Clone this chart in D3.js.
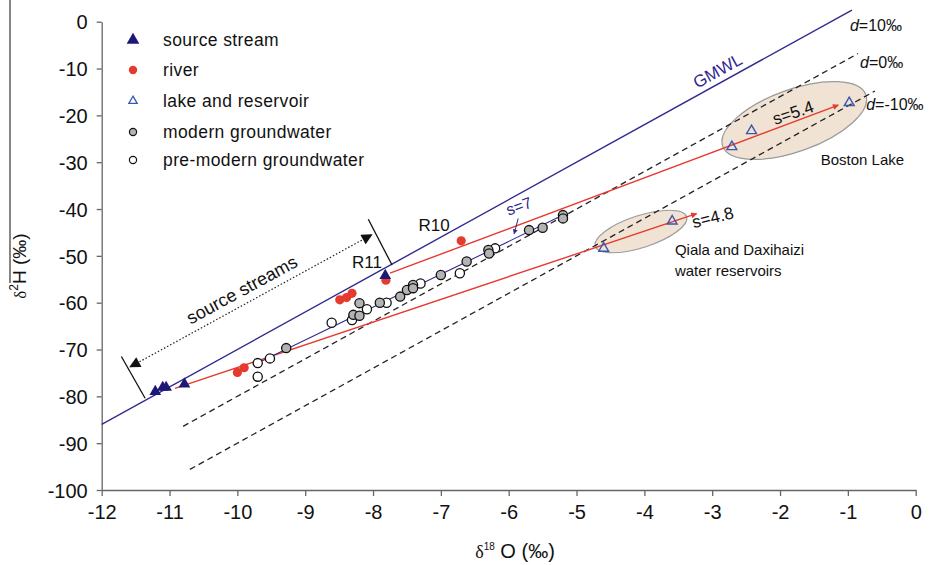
<!DOCTYPE html>
<html>
<head>
<meta charset="utf-8">
<script src="https://cdn.jsdelivr.net/npm/d3@7"></script>
<style>
  body { margin: 0; background: #fff; }
  svg { font-family: "Liberation Sans", Arial, sans-serif; }
</style>
</head>
<body>
<svg id="chart" width="936" height="565"></svg>
<script>
// ---- data (delta18O, delta2H) ----
var xTicks = [-12, -11, -10, -9, -8, -7, -6, -5, -4, -3, -2, -1, 0];
var yTicks = [0, -10, -20, -30, -40, -50, -60, -70, -80, -90, -100];

var sourceStream = [[-11.21, -79.0], [-11.10, -78.1], [-11.05, -78.1], [-10.78, -77.4], [-7.82, -54.2]];
var river = [[-10.0, -74.9], [-9.9, -73.9], [-8.49, -59.4], [-8.39, -58.9], [-8.31, -58.0], [-7.81, -55.2], [-6.70, -46.8]];
var lakeReservoir = [[-2.71, -26.7], [-2.42, -23.3], [-0.98, -17.3], [-4.60, -48.4], [-3.59, -42.6]];
var modernGW = [[-9.28, -69.7], [-8.29, -62.6], [-8.20, -62.8], [-8.20, -60.1], [-7.90, -60.0], [-7.60, -58.7],
  [-7.50, -57.3], [-7.41, -56.2], [-7.41, -56.9], [-7.00, -54.1], [-6.62, -51.2], [-6.30, -48.75], [-6.29, -49.5],
  [-5.70, -44.5], [-5.50, -44.0], [-5.20, -41.3], [-5.20, -42.0]];
var preModernGW = [[-9.70, -72.9], [-9.70, -75.8], [-9.52, -71.9], [-8.61, -64.3], [-8.31, -63.7], [-8.09, -61.4],
  [-7.80, -60.0], [-7.30, -55.9], [-6.72, -53.7], [-6.20, -48.4]];

// meteoric water lines: dH = 8*dO + d
var gmwlRange = [-12, -0.94];
var dExcess = [0, -10];
var dExcessRanges = [[-10.8, -0.85], [-10.7, -0.6]];

// fitted evaporation lines
var trendBoston = [[-7.75, -53.7], [-1.14, -17.8]];
var trendQiala = [[-10.92, -78.3], [-3.23, -41.0]];
var trendGW = [[-9.70, -72.9], [-5.20, -41.3]];

// source streams span marker
var spanArrow = [[-11.58, -73.7], [-8.02, -45.5]];
var spanBars = [[[-11.71, -71.5], [-11.36, -80.4]], [[-8.07, -42.2], [-7.72, -51.95]]];

// ellipse centres
var bostonCentre = [-1.79, -21.1];
var qialaCentre = [-4.05, -44.8];

var legendLabels = ["source stream", "river", "lake and reservoir", "modern groundwater", "pre-modern groundwater"];

// ---- chart ----
var svg = d3.select("#chart");
var x = d3.scaleLinear().domain([-12, 0]).range([101.7, 915.7]);
var y = d3.scaleLinear().domain([-100, 0]).range([490, 21.7]);

var navy = "#1d1878", red = "#e63a2e", lakeBlue = "#3a56b0", lineBlue = "#2f2a8e";

var defs = svg.append("defs");
defs.append("marker").attr("id", "redHead")
  .attr("viewBox", "0 0 10 10").attr("refX", 9).attr("refY", 5)
  .attr("markerWidth", 7).attr("markerHeight", 6).attr("markerUnits", "userSpaceOnUse")
  .attr("orient", "auto")
  .append("path").attr("d", "M0,0 L10,5 L0,10 z").attr("fill", red);
defs.append("marker").attr("id", "blackHead")
  .attr("viewBox", "0 0 10 10").attr("refX", 9).attr("refY", 5)
  .attr("markerWidth", 13).attr("markerHeight", 11).attr("markerUnits", "userSpaceOnUse")
  .attr("orient", "auto-start-reverse")
  .append("path").attr("d", "M0,0 L10,5 L0,10 z").attr("fill", "#111");
defs.append("marker").attr("id", "blueHead")
  .attr("viewBox", "0 0 10 10").attr("refX", 9).attr("refY", 5)
  .attr("markerWidth", 5).attr("markerHeight", 5).attr("markerUnits", "userSpaceOnUse")
  .attr("orient", "auto")
  .append("path").attr("d", "M0,0 L10,5 L0,10 z").attr("fill", lineBlue);

// axes
var plain = function (d) { return String(d); };
var xAxis = svg.append("g").attr("transform", "translate(0," + y(-100) + ")")
  .call(d3.axisBottom(x).tickValues(xTicks).tickSize(6).tickSizeOuter(0).tickPadding(9).tickFormat(plain));
var yAxis = svg.append("g").attr("transform", "translate(" + x(-12) + ",0)")
  .call(d3.axisLeft(y).tickValues(yTicks).tickSize(5).tickSizeOuter(0).tickPadding(9).tickFormat(plain));
[xAxis, yAxis].forEach(function (g) {
  g.selectAll("path, line").attr("stroke", "#666").attr("stroke-width", 1.3);
  g.selectAll("text").attr("font-size", 20).attr("fill", "#111")
    .attr("font-family", "'Liberation Sans', Arial, sans-serif");
});
yAxis.selectAll("text").attr("dy", "0.36em");

// axis titles
svg.append("text").attr("x", 515).attr("y", 558).attr("text-anchor", "middle")
  .attr("font-size", 20).attr("fill", "#111")
  .call(function (t) {
    t.append("tspan").text("δ").attr("font-family", "'Liberation Serif', serif").attr("font-size", 18);
    t.append("tspan").text("18").attr("font-size", 10).attr("dy", -8);
    t.append("tspan").text(" O (‰)").attr("dy", 8);
  });
svg.append("text").attr("transform", "translate(26,266) rotate(-90)").attr("text-anchor", "middle")
  .attr("font-size", 19).attr("fill", "#111")
  .call(function (t) {
    t.append("tspan").text("δ").attr("font-family", "'Liberation Serif', serif").attr("font-size", 17);
    t.append("tspan").text("2").attr("font-size", 12).attr("dy", -8);
    t.append("tspan").text("H (‰)").attr("dy", 8);
  });
svg.append("line").attr("x1", 10).attr("x2", 10).attr("y1", 0).attr("y2", 283)
  .attr("stroke", "#444").attr("stroke-width", 1.3);

// ellipses
function ellipse(c, rx, ry, ang) {
  svg.append("ellipse")
    .attr("transform", "translate(" + x(c[0]) + "," + y(c[1]) + ") rotate(" + ang + ")")
    .attr("rx", rx).attr("ry", ry)
    .attr("fill", "#f1e3d4").attr("stroke", "#9a9a9a").attr("stroke-width", 1.2);
}
ellipse(bostonCentre, 76, 31, -19.8);
ellipse(qialaCentre, 48, 16, -18);

// GMWL and d-excess lines
var line = d3.line().x(function (d) { return x(d[0]); }).y(function (d) { return y(d[1]); });
svg.append("path").attr("d", line(gmwlRange.map(function (v) { return [v, 8 * v + 10]; })))
  .attr("stroke", lineBlue).attr("stroke-width", 1.4).attr("fill", "none");
dExcess.forEach(function (d, i) {
  svg.append("path").attr("d", line(dExcessRanges[i].map(function (v) { return [v, 8 * v + d]; })))
    .attr("stroke", "#222").attr("stroke-width", 1.3).attr("stroke-dasharray", "6,4").attr("fill", "none");
});

// trend lines
[trendBoston, trendQiala].forEach(function (t) {
  svg.append("path").attr("d", line(t)).attr("stroke", red).attr("stroke-width", 1.4)
    .attr("fill", "none").attr("marker-end", "url(#redHead)");
});
svg.append("path").attr("d", line(trendGW)).attr("stroke", lineBlue).attr("stroke-width", 1.1).attr("fill", "none");

// source streams span
svg.append("path").attr("d", line(spanArrow)).attr("stroke", "#222").attr("stroke-width", 1.2)
  .attr("stroke-dasharray", "1.5,2").attr("fill", "none")
  .attr("marker-start", "url(#blackHead)").attr("marker-end", "url(#blackHead)");
spanBars.forEach(function (b) {
  svg.append("path").attr("d", line(b)).attr("stroke", "#111").attr("stroke-width", 1.3).attr("fill", "none");
});

// points
var triFilled = d3.symbol().type(d3.symbolTriangle).size(60);
var triOpen = d3.symbol().type(d3.symbolTriangle).size(42);
function tr(d) { return "translate(" + x(d[0]) + "," + y(d[1]) + ")"; }

svg.append("g").selectAll("circle").data(preModernGW).join("circle")
  .attr("cx", function (d) { return x(d[0]); }).attr("cy", function (d) { return y(d[1]); })
  .attr("r", 4.6).attr("fill", "#fff").attr("stroke", "#111").attr("stroke-width", 1.3);
svg.append("g").selectAll("circle").data(modernGW).join("circle")
  .attr("cx", function (d) { return x(d[0]); }).attr("cy", function (d) { return y(d[1]); })
  .attr("r", 4.6).attr("fill", "#b3b3b3").attr("stroke", "#111").attr("stroke-width", 1.3);
svg.append("g").selectAll("circle").data(river).join("circle")
  .attr("cx", function (d) { return x(d[0]); }).attr("cy", function (d) { return y(d[1]); })
  .attr("r", 4.6).attr("fill", red);
svg.append("g").selectAll("path").data(sourceStream).join("path")
  .attr("transform", tr).attr("d", triFilled).attr("fill", navy);
svg.append("g").selectAll("path").data(lakeReservoir).join("path")
  .attr("transform", tr).attr("d", triOpen).attr("fill", "none").attr("stroke", lakeBlue).attr("stroke-width", 1.4);

// legend
var legY = [40, 70, 101, 132, 160];
var leg = svg.append("g");
leg.append("path").attr("transform", "translate(133," + legY[0] + ")")
  .attr("d", d3.symbol().type(d3.symbolTriangle).size(70)).attr("fill", navy);
leg.append("circle").attr("cx", 133).attr("cy", legY[1]).attr("r", 4.2).attr("fill", red);
leg.append("path").attr("transform", "translate(133," + legY[2] + ")")
  .attr("d", d3.symbol().type(d3.symbolTriangle).size(30)).attr("fill", "none")
  .attr("stroke", lakeBlue).attr("stroke-width", 1.3);
leg.append("circle").attr("cx", 133).attr("cy", legY[3]).attr("r", 3.6)
  .attr("fill", "#b3b3b3").attr("stroke", "#111").attr("stroke-width", 1.2);
leg.append("circle").attr("cx", 133).attr("cy", legY[4]).attr("r", 3.6)
  .attr("fill", "#fff").attr("stroke", "#111").attr("stroke-width", 1.2);
leg.selectAll("text").data(legendLabels).join("text")
  .attr("x", 163).attr("y", function (d, i) { return legY[i]; }).attr("dy", "0.35em")
  .attr("font-size", 17.5).attr("letter-spacing", 0.4).attr("fill", "#111").text(function (d) { return d; });

// annotations
function label(pos, txt, opts) {
  opts = opts || {};
  var t = svg.append("text")
    .attr("transform", "translate(" + x(pos[0]) + "," + y(pos[1]) + ") rotate(" + (opts.rot || 0) + ")")
    .attr("text-anchor", opts.anchor || "start")
    .attr("font-size", opts.size || 16).attr("fill", opts.color || "#111");
  if (typeof txt === "function") txt(t); else t.text(txt);
  return t;
}
label([-2.88, -11.6], "GMWL", { rot: -28.9, anchor: "middle", size: 17, color: lineBlue });
function dLabel(v) {
  return function (t) {
    t.append("tspan").text("d").attr("font-style", "italic");
    t.append("tspan").text("=" + v + "‰");
  };
}
label([-0.97, -2.0], dLabel("10"), { size: 16 });
label([-0.82, -9.9], dLabel("0"), { size: 16 });
label([-0.73, -18.8], dLabel("-10"), { size: 16 });
label([-1.78, -20.6], "s=5.4", { rot: -19, anchor: "middle", size: 17 });
label([-1.4, -30.6], "Boston Lake", { size: 15 });
label([-2.97, -43.0], "s=4.8", { rot: -14, anchor: "middle", size: 17 });
label([-3.55, -49.8], "Qiala and Daxihaizi", { size: 15 });
label([-3.55, -54.3], "water reservoirs", { size: 15 });
label([-7.10, -44.7], "R10", { anchor: "middle", size: 17 });
label([-8.09, -52.6], "R11", { anchor: "middle", size: 17 });
label([-5.82, -40.5], "s=7", { rot: -20, anchor: "middle", size: 16, color: lineBlue });
label([-9.89, -58.4], "source streams", { rot: -28.6, anchor: "middle", size: 18 });

// small arrow from s=7 label to the groundwater line
svg.append("path").attr("d", line([[-5.86, -42.0], [-5.92, -45.3]]))
  .attr("stroke", lineBlue).attr("stroke-width", 1).attr("fill", "none").attr("marker-end", "url(#blueHead)");
</script>
</body>
</html>
